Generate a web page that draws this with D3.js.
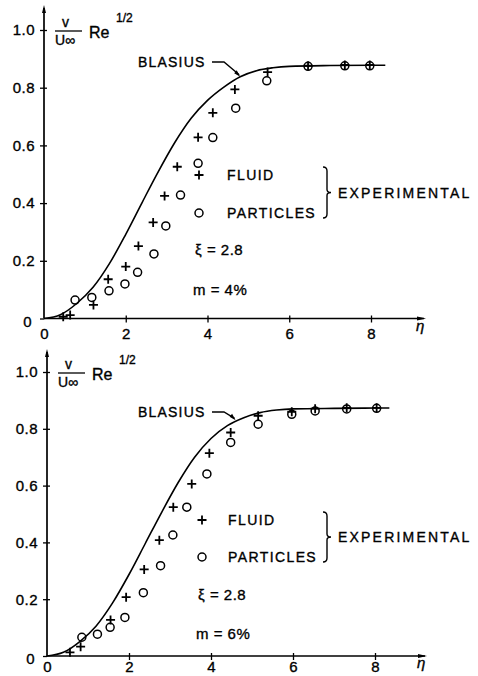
<!DOCTYPE html>
<html>
<head>
<meta charset="utf-8">
<script src="https://cdn.jsdelivr.net/npm/d3@7"></script>
<style>
  body { margin: 0; background: #fff; }
  text { font-family: "Liberation Sans", Arial, sans-serif; fill: #000; stroke: #000; stroke-width: 0.35px; }
</style>
</head>
<body>
<div id="chart"></div>
<script>
// axis ticks
const etaTicks = [0, 2, 4, 6, 8];
const vTicks = [0, 0.2, 0.4, 0.6, 0.8, 1.0];

// Blasius curve
const blasiusEta = [0, 0.4, 0.8, 1.2, 1.6, 2.0, 2.4, 2.8, 3.2, 3.6, 4.0, 4.4, 4.8, 5.2, 5.6, 6.0, 7.0, 8.0, 8.35];
const blasiusTop = [0, 0.013, 0.052, 0.108, 0.19, 0.292, 0.402, 0.51, 0.61, 0.694, 0.756, 0.802, 0.838, 0.859, 0.869, 0.874, 0.877, 0.878, 0.878];
const blasiusBottom = [0, 0.013, 0.051, 0.106, 0.187, 0.287, 0.397, 0.507, 0.611, 0.7, 0.766, 0.811, 0.839, 0.857, 0.866, 0.87, 0.872, 0.873, 0.873];

// m = 4 %
const fluidEtaTop = [0.47, 0.64, 1.21, 1.57, 2.0, 2.31, 2.67, 2.95, 3.26, 3.77, 4.13, 4.67, 5.47, 6.46, 7.36, 7.97];
const fluidVTop = [0.006, 0.012, 0.047, 0.136, 0.18, 0.251, 0.333, 0.425, 0.526, 0.628, 0.713, 0.794, 0.854, 0.876, 0.879, 0.879];
const particlesEtaTop = [0.76, 1.17, 1.59, 1.98, 2.29, 2.69, 2.98, 3.34, 3.77, 4.13, 4.69, 5.45, 6.46, 7.36, 7.97];
const particlesVTop = [0.064, 0.073, 0.096, 0.12, 0.16, 0.224, 0.321, 0.428, 0.538, 0.627, 0.729, 0.824, 0.874, 0.876, 0.876];

// m = 6 %
const fluidEtaBottom = [0.56, 0.82, 1.55, 1.93, 2.37, 2.74, 3.08, 3.53, 3.96, 4.48, 5.15, 5.97, 6.54, 7.31, 8.04];
const fluidVBottom = [0.013, 0.033, 0.127, 0.207, 0.305, 0.408, 0.524, 0.606, 0.714, 0.787, 0.846, 0.86, 0.871, 0.874, 0.874];
const particlesEtaBottom = [0.85, 1.23, 1.54, 1.9, 2.35, 2.77, 3.07, 3.41, 3.9, 4.48, 5.15, 5.97, 6.54, 7.31, 8.04];
const particlesVBottom = [0.066, 0.077, 0.101, 0.136, 0.223, 0.318, 0.426, 0.524, 0.641, 0.752, 0.816, 0.851, 0.863, 0.87, 0.872];

const width = 478;
const height = 676;

const svg = d3.select("#chart")
    .append("svg")
    .attr("width", width)
    .attr("height", height);

const crossPath = "M-4.5,0H4.5M0,-4.5V4.5";

function zip(a, b) {
    return a.map((d, i) => [d, b[i]]);
}

function drawPanel(p) {
    const x = d3.scaleLinear().domain([0, 8]).range(p.xRange);
    const y = d3.scaleLinear().domain([0, 1]).range(p.yRange);
    const g = svg.append("g");

    // y axis: ticks on both sides
    const yAx = g.append("g")
        .attr("transform", `translate(${x(0)},0)`)
        .call(d3.axisLeft(y).tickValues(vTicks).tickSize(4).tickPadding(5)
            .tickFormat(d => d === 0 ? "0" : d3.format(".1f")(d)));
    yAx.select(".domain").remove();
    yAx.selectAll("text").style("font-size", "15px").attr("letter-spacing", 0.5)
        .attr("font-family", "Liberation Sans, Arial, sans-serif");
    yAx.selectAll("text").filter(d => d === 0).attr("dy", "0.5em").attr("x", -12);
    const yAx2 = g.append("g")
        .attr("transform", `translate(${x(0)},0)`)
        .call(d3.axisRight(y).tickValues(vTicks.slice(1)).tickSize(3).tickFormat(""));
    yAx2.select(".domain").remove();

    // x axis
    const xAx = g.append("g")
        .attr("transform", `translate(0,${y(0)})`)
        .call(d3.axisBottom(x).tickValues(etaTicks).tickSize(4).tickPadding(p.xPad));
    xAx.select(".domain").remove();
    xAx.selectAll(".tick line").attr("y1", -3);
    xAx.selectAll("text").style("font-size", "15px")
        .attr("font-family", "Liberation Sans, Arial, sans-serif");
    xAx.selectAll(".tick").filter(d => d === 0).select("line").remove();
    g.selectAll(".tick line").attr("stroke", "#000").attr("stroke-width", 1.3);

    // axis lines with arrows
    g.append("line").attr("x1", x(0)).attr("x2", x(0)).attr("y1", y(0)).attr("y2", p.yTop)
        .attr("stroke", "#000").attr("stroke-width", 1.7);
    g.append("path").attr("d", `M${x(0)},${p.yTop - 3}l-2,8h4z`).attr("fill", "#000");
    g.append("line").attr("x1", x(0)).attr("x2", p.xEnd).attr("y1", y(0)).attr("y2", y(0))
        .attr("stroke", "#000").attr("stroke-width", 1.7);
    g.append("path").attr("d", `M${p.xEnd + 2},${y(0)}l-9,-2v4z`).attr("fill", "#000");
    g.append("text").attr("x", p.xEnd - 8).attr("y", y(0) + 12)
        .style("font-size", "15px").style("font-style", "italic").text("η");

    // y label  v/U∞ Re^1/2
    const lx = x(0) + 11, ly = y(1);
    g.append("text").attr("x", lx + 7).attr("y", ly - 3).style("font-size", "14px").text("v");
    g.append("line").attr("x1", lx).attr("x2", lx + 27).attr("y1", ly + 1).attr("y2", ly + 1)
        .attr("stroke", "#000").attr("stroke-width", 1.3);
    g.append("text").attr("x", lx).attr("y", ly + 15).style("font-size", "14px").text("U∞");
    g.append("text").attr("x", lx + 34).attr("y", ly + 8).style("font-size", "16px").text("Re");
    g.append("text").attr("x", lx + 61).attr("y", ly - 8).style("font-size", "12px").text("1/2");

    // Blasius curve
    const line = d3.line().x(d => x(d[0])).y(d => y(d[1])).curve(d3.curveMonotoneX);
    g.append("path").datum(zip(blasiusEta, p.blasius))
        .attr("d", line).attr("fill", "none").attr("stroke", "#000").attr("stroke-width", 1.6);

    // Blasius label with leader
    g.append("text").attr("x", p.blasiusLabel[0]).attr("y", p.blasiusLabel[1])
        .style("font-size", "14px").attr("letter-spacing", 1.2).text("BLASIUS");
    const bx = x(p.blasiusEnd), by = y(p.blasiusAt);
    const sx = p.blasiusLabel[0] + 74, sy = p.blasiusLabel[1] - 5;
    g.append("path").attr("d", `M${sx},${sy}H${sx + 12}L${bx - 1},${by - 2}`)
        .attr("fill", "none").attr("stroke", "#000").attr("stroke-width", 1.4);
    g.append("path").attr("d", `M${bx},${by}l-6,-3.5l2.5,-3z`).attr("fill", "#000");

    // points
    g.selectAll(".fluid").data(zip(p.fluidEta, p.fluidV)).enter().append("path")
        .attr("class", "fluid")
        .attr("transform", d => `translate(${x(d[0])},${y(d[1])})`)
        .attr("d", crossPath).attr("stroke", "#000").attr("stroke-width", 1.8);
    g.selectAll(".particle").data(zip(p.particlesEta, p.particlesV)).enter().append("circle")
        .attr("class", "particle")
        .attr("cx", d => x(d[0])).attr("cy", d => y(d[1])).attr("r", 4)
        .attr("fill", "none").attr("stroke", "#000").attr("stroke-width", 1.5);

    // legend
    const lg = p.legend;
    g.append("path").attr("transform", `translate(${lg.mx},${lg.fy})`).attr("d", crossPath)
        .attr("stroke", "#000").attr("stroke-width", 1.8);
    g.append("circle").attr("cx", lg.mx).attr("cy", lg.py).attr("r", 4)
        .attr("fill", "none").attr("stroke", "#000").attr("stroke-width", 1.5);
    g.append("text").attr("x", lg.tx).attr("y", lg.fy + 5).style("font-size", "14px")
        .attr("letter-spacing", 1.4).text("FLUID");
    g.append("text").attr("x", lg.tx).attr("y", lg.py + 5).style("font-size", "14px")
        .attr("letter-spacing", 1.4).text("PARTICLES");
    const b0 = lg.fy - 8, b1 = lg.py + 5, bm = (b0 + b1) / 2, bxx = 323;
    g.append("path")
        .attr("d", `M${bxx},${b0}q4,0 4,4V${bm - 3}q0,3 4,3q-4,0 -4,3V${b1 - 4}q0,4 -4,4`)
        .attr("fill", "none").attr("stroke", "#000").attr("stroke-width", 1.4);
    g.append("text").attr("x", 338).attr("y", bm + 5).style("font-size", "14px")
        .attr("letter-spacing", 2.2).text("EXPERIMENTAL");
    g.append("text").attr("x", lg.mx - 4).attr("y", lg.xiy + 5).style("font-size", "15px")
        .attr("letter-spacing", 0.5).text("ξ = 2.8");
    g.append("text").attr("x", lg.mx - 6).attr("y", lg.my + 5).style("font-size", "15px")
        .attr("letter-spacing", 0.5).text(p.mLabel);
}

drawPanel({
    xRange: [44, 371], yRange: [318.5, 30], yTop: 8, xEnd: 424, xPad: 6,
    blasius: blasiusTop,
    blasiusEnd: 4.8, blasiusAt: 0.838, blasiusLabel: [138, 67],
    fluidEta: fluidEtaTop, fluidV: fluidVTop,
    particlesEta: particlesEtaTop, particlesV: particlesVTop,
    legend: { mx: 199, fy: 175, py: 213, tx: 227, xiy: 250, my: 290 },
    mLabel: "m = 4%"
});

drawPanel({
    xRange: [47, 375], yRange: [656, 372], yTop: 352, xEnd: 425, xPad: 1,
    blasius: blasiusBottom,
    blasiusEnd: 4.6, blasiusAt: 0.83, blasiusLabel: [138, 417],
    fluidEta: fluidEtaBottom, fluidV: fluidVBottom,
    particlesEta: particlesEtaBottom, particlesV: particlesVBottom,
    legend: { mx: 202, fy: 520, py: 557, tx: 228, xiy: 595, my: 634 },
    mLabel: "m = 6%"
});
</script>
</body>
</html>
